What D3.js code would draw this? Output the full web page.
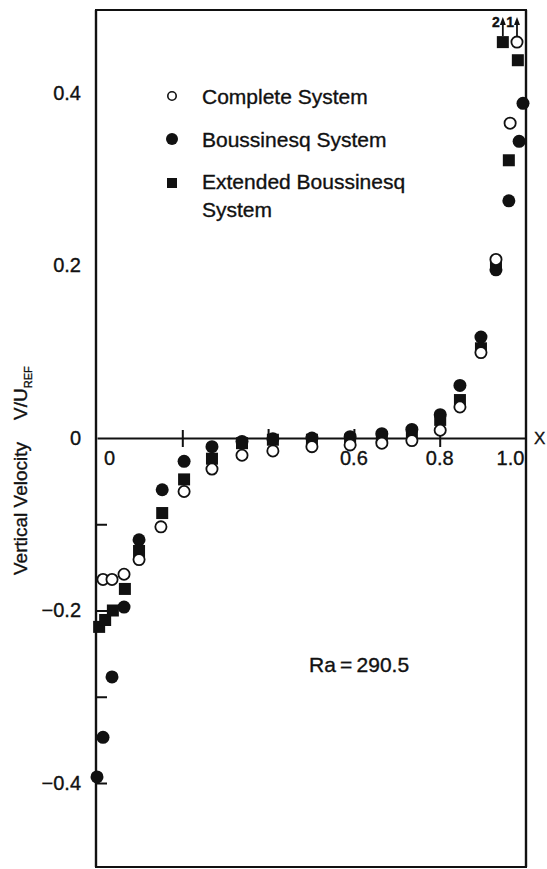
<!DOCTYPE html>
<html>
<head>
<meta charset="utf-8">
<script src="https://cdn.jsdelivr.net/npm/d3@7"></script>
<style>
  html, body { margin: 0; padding: 0; background: #fff; }
  svg { display: block; }
  text { font-family: "Liberation Sans", Arial, Helvetica, sans-serif; fill: #111; stroke: #111; stroke-width: 0.35px; }
</style>
</head>
<body>
<svg id="chart" width="547" height="869"></svg>
<script>
// ---------------- data ----------------
const seriesNames = ["Complete System", "Boussinesq System", "Extended Boussinesq System"];

// Complete system (open circles)
const completeX = [0.014, 0.035, 0.063, 0.098, 0.149, 0.203, 0.268, 0.338, 0.410, 0.501, 0.590, 0.664, 0.734, 0.800, 0.846, 0.895, 0.930, 0.963, 0.979];
const completeY = [-0.164, -0.164, -0.158, -0.141, -0.103, -0.062, -0.036, -0.020, -0.015, -0.010, -0.008, -0.006, -0.003, 0.009, 0.036, 0.099, 0.207, 0.365, 0.459];

// Boussinesq system (filled circles)
const boussX = [0.000, 0.014, 0.035, 0.063, 0.098, 0.152, 0.203, 0.268, 0.338, 0.410, 0.501, 0.590, 0.664, 0.734, 0.800, 0.846, 0.895, 0.930, 0.960, 0.984, 0.993];
const boussY = [-0.393, -0.347, -0.277, -0.196, -0.118, -0.060, -0.027, -0.010, -0.004, -0.001, 0.000, 0.0015, 0.005, 0.010, 0.027, 0.061, 0.117, 0.195, 0.275, 0.344, 0.388];

// Extended Boussinesq system (filled squares)
const extX = [0.005, 0.019, 0.037, 0.065, 0.098, 0.152, 0.203, 0.268, 0.338, 0.410, 0.501, 0.590, 0.664, 0.734, 0.800, 0.846, 0.895, 0.930, 0.960, 0.981, 0.946];
const extY = [-0.219, -0.211, -0.200, -0.175, -0.131, -0.087, -0.048, -0.024, -0.006, -0.002, -0.002, -0.002, 0.001, 0.006, 0.021, 0.044, 0.104, 0.201, 0.322, 0.438, 0.459];

// off-scale markers flagged with arrows: label, series, index
const arrowLabels = ["2", "1"];
const arrowSeries = ["ext", "complete"];
const arrowIndex = [20, 18];

// axis ticks
const yLabelTicks = [0.4, 0.2, 0, -0.2, -0.4];
const yLabelText = ["0.4", "0.2", "0", "\u22120.2", "\u22120.4"];
const yInnerTicks = [-0.1, -0.2, -0.3, -0.4];
const xLabelTicks = [0, 0.6, 0.8, 1.0];
const xLabelText = ["0", "0.6", "0.8", "1.0"];
const xCrossTicks = [0.2, 0.8];
const xUpTicks = [0.4, 0.6];
const annotation = "Ra\u2009=\u2009290.5";

// ---------------- drawing ----------------
const svg = d3.select("#chart");
const fL = 96, fR = 526, fT = 10, fB = 867;

const x = d3.scaleLinear().domain([0, 1]).range([97, 526]);
const y = d3.scaleLinear().domain([0, 0.4]).range([438, 93]);

// frame
const frame = svg.append("g").attr("stroke", "#111").attr("fill", "none");
frame.append("line").attr("x1", fL).attr("x2", fL).attr("y1", fT).attr("y2", fB).attr("stroke-width", 2.4);
frame.append("line").attr("x1", fL - 1).attr("x2", fR + 1).attr("y1", fT).attr("y2", fT).attr("stroke-width", 2.2);
frame.append("line").attr("x1", fR).attr("x2", fR).attr("y1", fT).attr("y2", fB).attr("stroke-width", 2.4);
frame.append("line").attr("x1", fL - 1).attr("x2", fR + 1).attr("y1", fB).attr("y2", fB).attr("stroke-width", 2.2);

// zero line (x axis) with labels
const xAxis = d3.axisBottom(x).tickValues(xLabelTicks).tickSize(0).tickPadding(13)
  .tickFormat((d, i) => xLabelText[i]);
const gx = svg.append("g").attr("transform", `translate(0,${y(0)})`).call(xAxis);
gx.select(".domain").attr("stroke", "#111").attr("stroke-width", 2);
gx.selectAll(".tick text").attr("font-size", 20).attr("fill", "#111")
  .style("font-family", '"Liberation Sans", Arial, sans-serif')
  .attr("dx", d => d === 0 ? 12 : (d === 1 ? -16 : -1));

// ticks on x axis
svg.append("g").selectAll("line").data(xCrossTicks).join("line")
  .attr("x1", d => x(d)).attr("x2", d => x(d))
  .attr("y1", y(0) - 8).attr("y2", y(0) + 9)
  .attr("stroke", "#111").attr("stroke-width", 2);
svg.append("g").selectAll("line").data(xUpTicks).join("line")
  .attr("x1", d => x(d)).attr("x2", d => x(d))
  .attr("y1", y(0) - 9).attr("y2", y(0))
  .attr("stroke", "#111").attr("stroke-width", 2);

// y axis labels
const yAxis = d3.axisLeft(y).tickValues(yLabelTicks).tickSize(0).tickPadding(15)
  .tickFormat((d, i) => yLabelText[i]);
const gy = svg.append("g").attr("transform", `translate(${fL},0)`).call(yAxis);
gy.select(".domain").remove();
gy.selectAll(".tick text").attr("font-size", 20).attr("fill", "#111")
  .style("font-family", '"Liberation Sans", Arial, sans-serif');

// inward y ticks
const yTickAxis = d3.axisRight(y).tickValues(yInnerTicks).tickSize(11).tickFormat("");
const gyt = svg.append("g").attr("transform", `translate(${fL},0)`).call(yTickAxis);
gyt.select(".domain").remove();
gyt.selectAll(".tick line").attr("stroke", "#111").attr("stroke-width", 2);

// y axis title
const yt = svg.append("text").attr("transform", "translate(27,575) rotate(-90)")
  .attr("font-size", 19);
yt.append("tspan").text("Vertical Velocity");
yt.append("tspan").attr("dx", 22).text("V/U");
yt.append("tspan").attr("font-size", 11).attr("dy", 5).text("REF");

// far-right axis title
svg.append("text").attr("x", 534).attr("y", 444).attr("font-size", 17).text("X");

// data marks
const bData = boussX.map((v, i) => ({ x: v, y: boussY[i] }));
const eData = extX.map((v, i) => ({ x: v, y: extY[i] }));
const cData = completeX.map((v, i) => ({ x: v, y: completeY[i] }));

svg.append("g").selectAll("circle").data(bData).join("circle")
  .attr("cx", d => x(d.x)).attr("cy", d => y(d.y)).attr("r", 6.5)
  .attr("fill", "#111");

const sq = 12;
svg.append("g").selectAll("rect").data(eData).join("rect")
  .attr("x", d => x(d.x) - sq / 2).attr("y", d => y(d.y) - sq / 2)
  .attr("width", sq).attr("height", sq).attr("fill", "#111");

svg.append("g").selectAll("circle").data(cData).join("circle")
  .attr("cx", d => x(d.x)).attr("cy", d => y(d.y)).attr("r", 5.6)
  .attr("fill", "#fff").attr("stroke", "#111").attr("stroke-width", 1.8);

// arrows above off-scale points
const lookup = { ext: eData, complete: cData };
arrowLabels.forEach((lab, i) => {
  const d = lookup[arrowSeries[i]][arrowIndex[i]];
  const ax = x(d.x), ay = y(d.y);
  svg.append("line").attr("x1", ax).attr("x2", ax).attr("y1", ay - 6).attr("y2", 21)
    .attr("stroke", "#111").attr("stroke-width", 1.8);
  svg.append("path").attr("d", `M${ax - 3},${25} L${ax},${17} L${ax + 3},${25} Z`).attr("fill", "#111");
  svg.append("text").attr("x", ax - 3).attr("y", 27).attr("text-anchor", "end")
    .attr("font-size", 14).attr("font-weight", "bold").text(lab);
});

// legend
const legend = svg.append("g");
legend.append("circle").attr("cx", 172).attr("cy", 96).attr("r", 4.2)
  .attr("fill", "#fff").attr("stroke", "#111").attr("stroke-width", 1.6);
legend.append("circle").attr("cx", 172).attr("cy", 139).attr("r", 6).attr("fill", "#111");
legend.append("rect").attr("x", 167).attr("y", 178).attr("width", 10).attr("height", 10).attr("fill", "#111");
legend.append("text").attr("x", 202).attr("y", 104).attr("font-size", 21).text(seriesNames[0]);
legend.append("text").attr("x", 202).attr("y", 147).attr("font-size", 21).text(seriesNames[1]);
legend.append("text").attr("x", 202).attr("y", 189).attr("font-size", 21).text("Extended Boussinesq");
legend.append("text").attr("x", 202).attr("y", 217).attr("font-size", 21).text("System");

// annotation
svg.append("text").attr("x", 309).attr("y", 672).attr("font-size", 21).text(annotation);
</script>
</body>
</html>
